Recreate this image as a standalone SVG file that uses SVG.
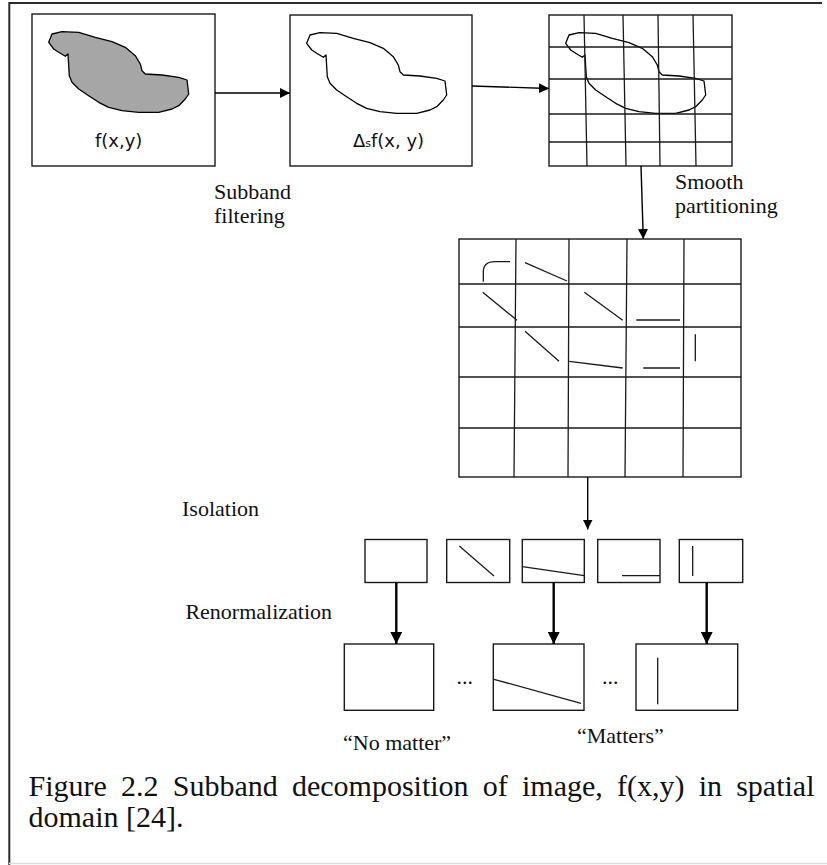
<svg xmlns="http://www.w3.org/2000/svg" width="827" height="865" viewBox="0 0 827 865">
  <style>
    .box { fill: #ffffff; stroke: #1a1a1a; stroke-width: 1.4; }
    .ln { fill: none; stroke: #1a1a1a; stroke-width: 1.3; stroke-linecap: butt; }
    .blob { stroke: #000000; stroke-width: 1.3; stroke-linejoin: round; }
    .conn { fill: none; stroke: #000000; stroke-width: 1.4; }
    .conn-bold { fill: none; stroke: #000000; stroke-width: 2.4; }
    .sans { font-family: "DejaVu Sans", "Liberation Sans", sans-serif; font-size: 18px; fill: #111111; }
    .serif { font-family: "Liberation Serif", "Times New Roman", serif; font-size: 22px; fill: #111111; }
    .caption { font-family: "Liberation Serif", "Times New Roman", serif; font-size: 30px; fill: #111111; }
  </style>
  <defs>
    <marker id="ah" markerUnits="userSpaceOnUse" markerWidth="11" markerHeight="10" refX="10" refY="5" orient="auto">
      <path d="M0,0 L10,5 L0,10 Z" fill="#000000"/>
    </marker>
    <marker id="ah-bold" markerUnits="userSpaceOnUse" markerWidth="13" markerHeight="12" refX="12" refY="6" orient="auto">
      <path d="M0,0 L12,6 L0,12 Z" fill="#000000"/>
    </marker>
    <!-- image region outline, in box-local coordinates -->
    <path id="region" d="M16.7,28.3 L20,20 L30,17.7 L46.7,18.3 L63.3,23.3 L80,27.7 L93.3,33.3 L103.3,41.7 L108.3,50 L110,56.7 L113.3,60 L130,61 L146.7,63.3 L155,66 L156.7,80 L153.3,85 L146.7,91.7 L140,95 L126.7,98.3 L106.7,98.3 L90,96.7 L76.7,93.3 L66.7,88.3 L56.7,81.7 L46.7,75 L40,68.3 L37.3,61.7 L36.7,51.7 L36,40 L33.3,42.3 L26.7,38.3 L21.7,35 Z"/>
  </defs>

  <!-- frame -->
  <path d="M9.3,865 V3 H822" fill="none" stroke="#2b2b2b" stroke-width="2"/>
  <line x1="9" y1="863.5" x2="827" y2="863.5" stroke="#dddddd" stroke-width="1.5"/>

  <!-- original image f(x,y) -->
  <g id="image">
    <rect class="box" x="32" y="14" width="183" height="152"/>
    <use href="#region" transform="translate(32,14)" class="blob" fill="#a6a6a6"/>
    <text class="sans" x="118.7" y="147" text-anchor="middle">f(x,y)</text>
  </g>

  <!-- subband filtered image -->
  <g id="filtered">
    <rect class="box" x="290" y="15" width="182" height="151"/>
    <use href="#region" transform="translate(290,15)" class="blob" fill="none"/>
    <text class="sans" x="388.5" y="147" text-anchor="middle">Δ<tspan font-size="11">s</tspan>f(x, y)</text>
  </g>

  <!-- partitioned image -->
  <g id="partitioned">
    <rect class="box" x="549" y="15" width="183" height="151"/>
    <use href="#region" transform="translate(549,15)" class="blob" fill="none"/>
    <path class="ln" d="M584,15 L587,166 M623,15 L626,166 M658,15 L660,166 M693,15 L696,166 M549,47 H732 M549,79 H732 M549,114 H732 M549,142 H732"/>
  </g>

  <!-- smooth windows -->
  <g id="windows">
    <rect class="box" x="459" y="239" width="282" height="238"/>
    <path class="ln" d="M516,239 L514,477 M569,239 L568,477 M627,239 L625,477 M684,239 L683,477 M459,284 H741 M459,327 H741 M459,377 H741 M459,428 H741"/>
    <path class="ln" d="M483.3,281.7 L483.3,272 Q483.3,261.7 495,261.7 L510,261.7"/>
    <path class="ln" d="M525,262.7 L567,281 M482.7,292.3 L517,320.3 M584.3,292.3 L622.7,320.3 M636.3,320 H680 M525,331.3 L559,361.3 M569.3,361.3 L622.7,368 M643.3,368 H680 M695.3,334.3 V361.3"/>
  </g>

  <!-- isolated squares -->
  <g id="square-1"><rect class="box" x="365" y="539.5" width="62" height="43"/></g>
  <g id="square-2"><rect class="box" x="446.7" y="539.5" width="63" height="43"/><line class="ln" x1="459.3" y1="546" x2="494" y2="576"/></g>
  <g id="square-3"><rect class="box" x="522.3" y="539.5" width="62" height="43"/><line class="ln" x1="522.3" y1="566.7" x2="584.3" y2="575.7"/></g>
  <g id="square-4"><rect class="box" x="597.7" y="539.5" width="62.3" height="43"/><line class="ln" x1="622" y1="575.7" x2="660" y2="575.7"/></g>
  <g id="square-5"><rect class="box" x="679.3" y="539.5" width="63.4" height="43"/><line class="ln" x1="692.7" y1="546" x2="692.7" y2="576"/></g>

  <!-- renormalized squares -->
  <g id="renorm-1"><rect class="box" x="344.3" y="644" width="89.4" height="66.3"/></g>
  <g id="renorm-2"><rect class="box" x="493.3" y="644" width="90.7" height="66.3"/><line class="ln" x1="494" y1="679.3" x2="581" y2="703.3"/></g>
  <g id="renorm-3"><rect class="box" x="636" y="644" width="101.7" height="66.3"/><line class="ln" x1="657.7" y1="657.7" x2="657.7" y2="704.3"/></g>

  <!-- connectors -->
  <g id="connectors">
    <line class="conn" x1="215" y1="93" x2="290" y2="93" marker-end="url(#ah)"/>
    <line class="conn" x1="472" y1="86" x2="549" y2="88.5" marker-end="url(#ah)"/>
    <line class="conn" x1="641" y1="166" x2="643.3" y2="239" marker-end="url(#ah)"/>
    <line class="conn" x1="587.7" y1="477" x2="587.7" y2="529.5" marker-end="url(#ah)"/>
    <line class="conn-bold" x1="396.3" y1="582.5" x2="396.3" y2="644" marker-end="url(#ah-bold)"/>
    <line class="conn-bold" x1="553.7" y1="582.5" x2="553.7" y2="644" marker-end="url(#ah-bold)"/>
    <line class="conn-bold" x1="706.7" y1="582.5" x2="706.7" y2="644" marker-end="url(#ah-bold)"/>
  </g>

  <!-- labels -->
  <g id="labels">
    <text class="serif" x="214" y="199">Subband</text>
    <text class="serif" x="214" y="223">filtering</text>
    <text class="serif" x="675" y="189">Smooth</text>
    <text class="serif" x="675" y="213">partitioning</text>
    <text class="serif" x="182" y="516">Isolation</text>
    <text class="serif" x="332" y="619" text-anchor="end">Renormalization</text>
    <text class="serif" x="464.7" y="684" text-anchor="middle" font-size="16">...</text>
    <text class="serif" x="610.3" y="684" text-anchor="middle" font-size="16">...</text>
    <text class="serif" x="343" y="750">“No matter”</text>
    <text class="serif" x="577" y="743">“Matters”</text>
  </g>

  <!-- caption -->
  <g id="caption">
    <text class="caption" x="28.5" y="796" word-spacing="6.7">Figure 2.2 Subband decomposition of image, f(x,y) in spatial</text>
    <text class="caption" x="28.5" y="827">domain [24].</text>
  </g>
</svg>
